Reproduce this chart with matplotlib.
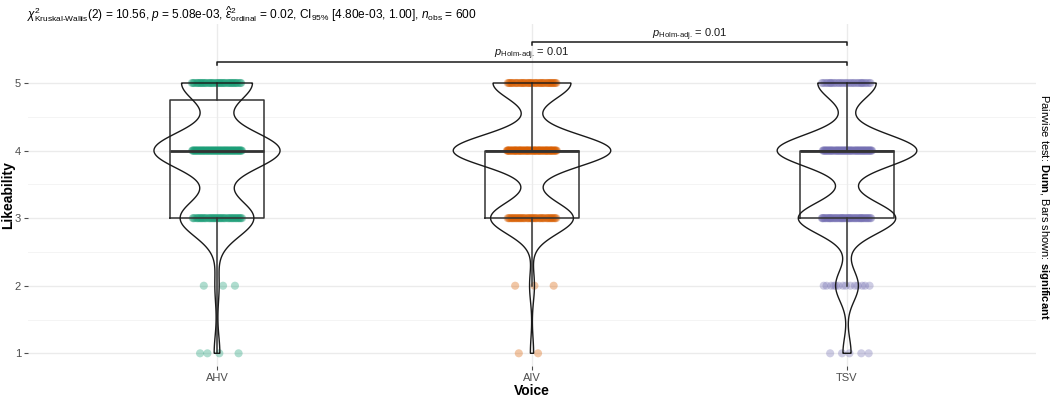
import numpy as np
import matplotlib
matplotlib.use("Agg")
import matplotlib.pyplot as plt

# ---------------- data ----------------
groups = ["AHV", "AIV", "TSV"]
levels = [1, 2, 3, 4, 5]
ahv_counts = [4, 3, 52, 89, 50]
aiv_counts = [2, 3, 51, 97, 48]
tsv_counts = [5, 14, 60, 86, 36]
group_colors = ["#1B9E77", "#D95F02", "#7570B3"]

pairs = [("AHV", "TSV"), ("AIV", "TSV")]
pair_labels = ["0.01", "0.01"]
bracket_y = [5.315, 5.602]

title_text = (r"$\chi^2_{\mathrm{Kruskal\text{-}Wallis}}(2)$ = 10.56, $p$ = 5.08e-03, "
              r"$\widehat{\epsilon}^2_{\mathrm{ordinal}}$ = 0.02, CI$_{95\%}$ [4.80e-03, 1.00], "
              r"$n_{\mathrm{obs}}$ = 600")

# ---------------- style ----------------
plt.rcParams["font.family"] = ["Liberation Sans", "DejaVu Sans"]
plt.rcParams["mathtext.fontset"] = "custom"
plt.rcParams["mathtext.rm"] = "Liberation Sans"
plt.rcParams["mathtext.it"] = "Liberation Sans:italic"
plt.rcParams["mathtext.bf"] = "Liberation Sans:bold"

W, H = 1052, 398
fig = plt.figure(figsize=(W / 100, H / 100), dpi=100)
left_px, right_px, top_px, bottom_px = 28, 1036, 24, 366
ax = fig.add_axes([left_px / W, (H - bottom_px) / H,
                   (right_px - left_px) / W, (bottom_px - top_px) / H])

y5_px, y1_px = 83.0, 353.3
unit = (y1_px - y5_px) / 4
ax.set_ylim(1 - (bottom_px - y1_px) / unit, 5 + (y5_px - top_px) / unit)
ax.set_xlim(0.4, 3.6)

# grid
ax.set_axisbelow(True)
for y in np.arange(1.5, 5.0, 1.0):
    ax.axhline(y, color="#F2F2F2", lw=0.6, zorder=0)
for y in levels:
    ax.axhline(y, color="#EBEBEB", lw=1.0, zorder=0)
for i in range(len(groups)):
    ax.axvline(i + 1, color="#EBEBEB", lw=1.0, zorder=0)

all_counts = [ahv_counts, aiv_counts, tsv_counts]
datasets = [np.repeat(levels, c).astype(float) for c in all_counts]

# points with deterministic jitter
jw = 0.08
for i, (d, col) in enumerate(zip(datasets, group_colors)):
    xs = []
    ys = []
    for lv, c in zip(levels, all_counts[i]):
        k = np.arange(c)
        off = (((k * 0.6180339887 + 0.31 * (lv + i)) % 1.0) - 0.5) * 2 * jw
        xs.extend(i + 1 + off)
        ys.extend([lv] * c)
    ax.scatter(xs, ys, s=34, color=col, alpha=0.35, edgecolors="none", zorder=2)

# boxplots
ax.boxplot(datasets, positions=[1, 2, 3], widths=0.3, whis=1.5,
           showfliers=False, showcaps=False, patch_artist=False,
           boxprops=dict(color="#333333", lw=1.1),
           whiskerprops=dict(color="#333333", lw=1.1),
           medianprops=dict(color="#333333", lw=2.0),
           zorder=3, manage_ticks=False)

# violins (gaussian KDE, nrd0 bandwidth, area scaling)
def nrd0(x):
    sd = np.std(x, ddof=1)
    iqr = np.subtract(*np.percentile(x, [75, 25]))
    lo = min(sd, iqr / 1.34)
    return 0.9 * lo * len(x) ** (-0.2)

dens_list = []
for d in datasets:
    bw = nrd0(d)
    yg = np.linspace(d.min(), d.max(), 600)
    dens = np.exp(-0.5 * ((yg[:, None] - d[None, :]) / bw) ** 2).sum(axis=1) / (len(d) * bw * np.sqrt(2 * np.pi))
    dens_list.append((yg, dens))
gmax = max(dd.max() for _, dd in dens_list)
for i, (yg, dens) in enumerate(dens_list):
    hw = dens / gmax * 0.25
    xs = np.concatenate([i + 1 - hw, (i + 1 + hw)[::-1]])
    ys = np.concatenate([yg, yg[::-1]])
    ax.fill(xs, ys, facecolor="none", edgecolor="#1a1a1a", lw=1.0, zorder=4)

# significance brackets
tick_len = 3.0 / unit
for (a, b), lab, yb in zip(pairs, pair_labels, bracket_y):
    xa, xb = groups.index(a) + 1, groups.index(b) + 1
    ax.plot([xa, xa, xb, xb], [yb - tick_len, yb, yb, yb - tick_len],
            color="#1a1a1a", lw=1.1, zorder=5, clip_on=False)
    ax.text((xa + xb) / 2, yb - 0.01,
            r"$p_{\mathrm{Holm\text{-}adj.}}\!$ = " + lab,
            ha="center", va="bottom", fontsize=8, color="#1a1a1a")

# axes styling
for s in ax.spines.values():
    s.set_visible(False)
ax.set_yticks(levels)
ax.set_yticklabels([str(v) for v in levels])
ax.set_xticks([1, 2, 3])
ax.set_xticklabels(groups)
ax.tick_params(axis="both", colors="#4D4D4D", labelsize=8, length=3, width=0.8, pad=2)
ax.tick_params(axis="both", labelcolor="#4D4D4D")
ax.set_xlabel("Voice", fontsize=10, fontweight="bold", labelpad=1)

fig.text(8 / W, 1 - 195 / H, "Likeability", rotation=90, ha="center", va="center",
         fontsize=10, fontweight="bold")
fig.text(27 / W, 1 - 14 / H, title_text, ha="left", va="center", fontsize=8.6)
fig.text(1044 / W, 1 - 207 / H,
         r"Pairwise test: $\mathbf{Dunn}$, Bars shown: $\mathbf{significant}$",
         rotation=270, ha="center", va="center", fontsize=8)

fig.savefig("out.png", dpi=100)
